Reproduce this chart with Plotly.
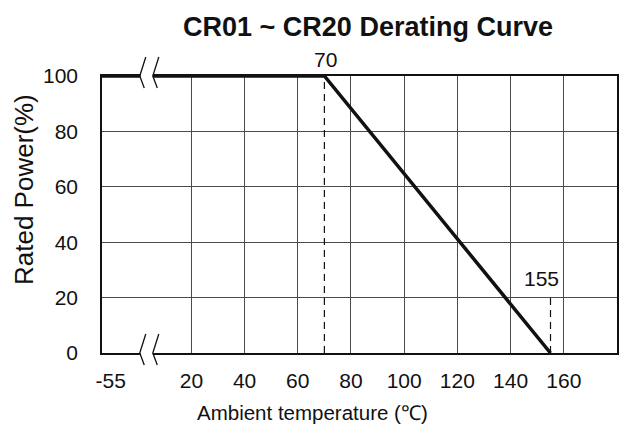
import plotly.graph_objects as go

# ---- data ----
title_text = "CR01 ~ CR20 Derating Curve"
x_title = "Ambient temperature (\u2103)"
y_title = "Rated Power(%)"

curve_temp = [-55, 70, 155]        # ambient temperature (°C)
curve_power = [100, 100, 0]        # rated power (%)

x_tick_temps = [-55, 20, 40, 60, 80, 100, 120, 140, 160]
y_tick_vals = [0, 20, 40, 60, 80, 100]

dash70_temp = [70, 70]
dash70_power = [0, 100]
dash155_temp = [155, 155]
dash155_power = [0, 20]

label70 = ("70", 70, 100)
label155 = ("155", 155, 27)

# broken axis: temperatures below 0 are compressed onto a short segment
BREAK_START = -55
BREAK_POS = -13.6
X_RANGE = [BREAK_POS, 180]
Y_RANGE = [0, 100]
BREAK_MARKS = [0.6, 5.5]           # axis positions of the "<<" break strokes

W, H = 620, 428
ML, MR, MT, MB = 102, 3, 76, 75
PW, PH = W - ML - MR, H - MT - MB


def to_axis(t):
    if t >= 0:
        return t
    return BREAK_POS + (t - BREAK_START) * (0 - BREAK_POS) / (0 - BREAK_START)


def axis_list(ts):
    return [to_axis(t) for t in ts]


def tick_label(t):
    # the first (broken-axis) label sits a little right of the axis start
    return "\u00a0\u00a0\u00a0" + str(t) if t < 0 else str(t)


def paper_pt(xpos, yval, dx_px, dy_px):
    """Point in paper coords: axis position plus a pixel offset (dy up)."""
    fx = (xpos - X_RANGE[0]) / (X_RANGE[1] - X_RANGE[0]) + dx_px / PW
    fy = (yval - Y_RANGE[0]) / (Y_RANGE[1] - Y_RANGE[0]) + dy_px / PH
    return f"{fx:.5f},{fy:.5f}"


FONT = "Liberation Sans, Arial, sans-serif"
BLACK = "#111111"
GRID = "#4a4a4a"

fig = go.Figure()

fig.add_trace(go.Scatter(x=axis_list(dash70_temp), y=dash70_power, mode="lines",
                         line=dict(color=BLACK, width=1.2, dash="7px,5px"),
                         hoverinfo="skip", showlegend=False))
fig.add_trace(go.Scatter(x=axis_list(dash155_temp), y=dash155_power, mode="lines",
                         line=dict(color=BLACK, width=1.2, dash="7px,5px"),
                         hoverinfo="skip", showlegend=False))
fig.add_trace(go.Scatter(x=axis_list(curve_temp), y=curve_power, mode="lines",
                         line=dict(color=BLACK, width=3.5), cliponaxis=False,
                         showlegend=False))

# break symbols "<<" on bottom and top axis lines, with a white gap between
for yv in Y_RANGE[::-1]:
    a, b = BREAK_MARKS
    gap = ("M " + paper_pt(a, yv, 0.8, -3.5) + " L " + paper_pt(b, yv, 0, -3.5)
           + " L " + paper_pt(b, yv, 0, 3.5) + " L " + paper_pt(a, yv, 0.8, 3.5) + " Z")
    fig.add_shape(type="path", xref="paper", yref="paper", path=gap,
                  fillcolor="white", line=dict(width=0), layer="above")
    for xm in BREAK_MARKS:
        stroke = ("M " + paper_pt(xm, yv, 6, 19) + " L " + paper_pt(xm, yv, 0, 0)
                  + " L " + paper_pt(xm, yv, 4.5, -12))
        fig.add_shape(type="path", xref="paper", yref="paper", path=stroke,
                      line=dict(color=BLACK, width=1.3), layer="above")

fig.add_annotation(x=to_axis(label70[1]), y=label70[2], text=label70[0],
                   showarrow=False, yshift=17, xshift=1,
                   font=dict(family=FONT, size=21, color=BLACK))
fig.add_annotation(x=to_axis(label155[1]), y=label155[2], text=label155[0],
                   showarrow=False, xshift=-9,
                   font=dict(family=FONT, size=21, color=BLACK))

fig.add_annotation(xref="paper", yref="paper", x=(312 - ML) / PW, y=-0.213,
                   xanchor="center", yanchor="middle",
                   text=x_title, showarrow=False,
                   font=dict(family=FONT, size=20.5, color=BLACK))
fig.add_annotation(xref="paper", yref="paper", x=(24 - ML) / PW, y=(MT + PH - 190) / PH,
                   xanchor="center", yanchor="middle",
                   text=y_title, showarrow=False, textangle=-90,
                   font=dict(family=FONT, size=26, color=BLACK))

fig.update_layout(
    width=W, height=H,
    margin=dict(l=ML, r=MR, t=MT, b=MB),
    paper_bgcolor="white", plot_bgcolor="white",
    title=dict(text="<b>" + title_text + "</b>", x=368 / W, xanchor="center",
               y=1 - 27 / H, yanchor="middle",
               font=dict(family=FONT, size=27, color=BLACK)),
    xaxis=dict(range=X_RANGE, tickvals=axis_list(x_tick_temps),
               ticktext=[tick_label(t) for t in x_tick_temps],
               showgrid=True, gridcolor=GRID, gridwidth=1.3,
               showline=True, linecolor=BLACK, linewidth=1.5, mirror=True,
               zeroline=False, ticks="", ticklabelstandoff=8, automargin=False,
               tickfont=dict(family=FONT, size=21, color=BLACK)),
    yaxis=dict(range=Y_RANGE, tickvals=y_tick_vals,
               showgrid=True, gridcolor=GRID, gridwidth=1.3,
               showline=True, linecolor=BLACK, linewidth=1.5, mirror=True,
               zeroline=False, ticks="", ticklabelstandoff=18, automargin=False,
               tickfont=dict(family=FONT, size=21, color=BLACK)),
)

fig.write_html("out.html", config={"displayModeBar": False},
               post_script="document.body.style.margin='0';")
